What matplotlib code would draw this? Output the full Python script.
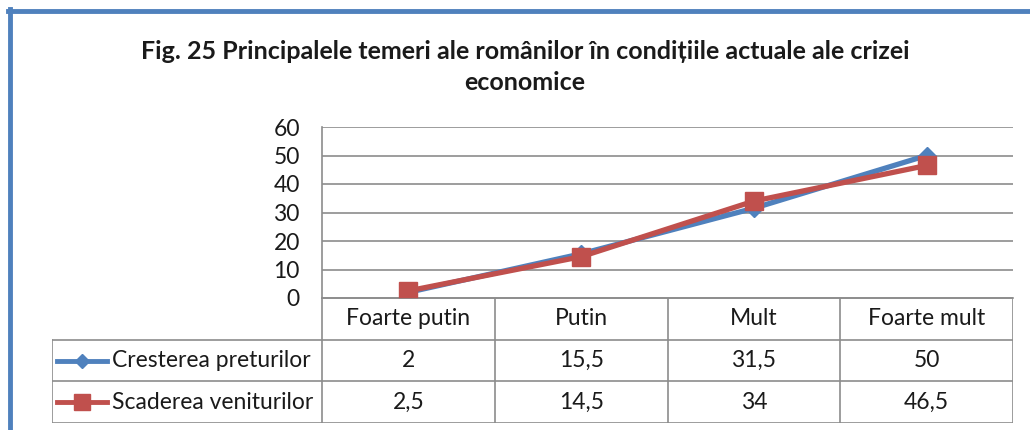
import matplotlib.pyplot as plt
import numpy as np

categories = ['Foarte putin', 'Putin', 'Mult', 'Foarte mult']
series_names = ['Cresterea preturilor', 'Scaderea veniturilor']
cresterea = [2, 15.5, 31.5, 50]
scaderea = [2.5, 14.5, 34, 46.5]
y_ticks = [0, 10, 20, 30, 40, 50, 60]
title = 'Fig. 25 Principalele temeri ale românilor în condițiile actuale ale crizei\neconomice'

plt.rcParams['font.family'] = ['Lato', 'DejaVu Sans']

W, H = 1030, 430
fig = plt.figure(figsize=(W / 100, H / 100), dpi=100)


def fx(px):
    return px / W


def fy(py):
    return 1 - py / H


# chenar albastru (sus si stanga)
fig.add_artist(plt.Line2D([fx(8), 1], [fy(11), fy(11)], color='#4F81BD', lw=3.5))
fig.add_artist(plt.Line2D([fx(10), fx(10)], [fy(9), 0], color='#4F81BD', lw=3.5))

fig.text(fx(525), fy(67), title, ha='center', va='center', fontsize=18,
         fontweight='bold', linespacing=1.45, color='#1a1a1a')

# zona graficului
ax = fig.add_axes([fx(322), fy(298), fx(1013) - fx(322), fy(127) - fy(298)])
x = np.arange(len(categories))
colors = ['#4F81BD', '#C0504D']
markers = ['D', 's']
msizes = [9, 13]
for vals, c, m, ms in zip([cresterea, scaderea], colors, markers, msizes):
    ax.plot(x, vals, color=c, lw=3.8, marker=m, markersize=ms, markeredgecolor=c, zorder=3)

ax.set_xlim(-0.5, len(categories) - 0.5)
ax.set_ylim(0, 60)
ax.set_yticks(y_ticks)
ax.set_yticklabels([str(t) for t in y_ticks], fontsize=16.5, color='#1a1a1a')
ax.tick_params(axis='y', length=0, pad=16)
ax.set_xticks([])
ax.grid(axis='y', color='#8c8c8c', lw=1.2)
for s in ['top', 'right']:
    ax.spines[s].set_visible(False)
for s in ['left', 'bottom']:
    ax.spines[s].set_color('#8c8c8c')
    ax.spines[s].set_linewidth(1.2)
ax.set_axisbelow(True)

# tabel de date
left_w = (322 - 52) / ((1013 - 322) / len(categories))
tx = fig.add_axes([fx(52), fy(423), fx(1013) - fx(52), fy(298) - fy(423)])
tx.set_xlim(-0.5 - left_w, len(categories) - 0.5)
tx.set_ylim(0, 3)
tx.axis('off')
gc = '#8c8c8c'
fs = 16.5
# linii orizontale
tx.plot([-0.5, len(categories) - 0.5], [3, 3], color=gc, lw=1.2)
for yy in [0, 1, 2]:
    tx.plot([-0.5 - left_w, len(categories) - 0.5], [yy, yy], color=gc, lw=1.2)
# linii verticale
for xx in np.arange(len(categories) + 1) - 0.5:
    tx.plot([xx, xx], [0, 3], color=gc, lw=1.2)
tx.plot([-0.5 - left_w] * 2, [0, 2], color=gc, lw=1.2)

for i, cat in enumerate(categories):
    tx.text(i, 2.5, cat, ha='center', va='center', fontsize=fs, color='#1a1a1a')
    tx.text(i, 1.5, f'{cresterea[i]:g}'.replace('.', ','), ha='center', va='center',
            fontsize=fs, color='#1a1a1a')
    tx.text(i, 0.5, f'{scaderea[i]:g}'.replace('.', ','), ha='center', va='center',
            fontsize=fs, color='#1a1a1a')

x0 = -0.5 - left_w
for row, name, c, m, ms in zip([1.5, 0.5], series_names, colors, markers, [7, 11]):
    tx.plot([x0 + 0.03, x0 + 0.32], [row, row], color=c, lw=3.5)
    tx.plot([x0 + 0.175], [row], color=c, marker=m, markersize=ms, markeredgecolor=c)
    tx.text(x0 + 0.35, row, name, ha='left', va='center', fontsize=fs, color='#1a1a1a')

fig.savefig('out.png', dpi=100, facecolor='white')
